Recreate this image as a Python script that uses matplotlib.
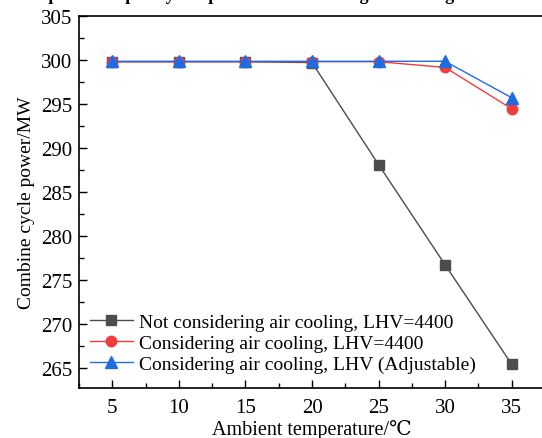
import matplotlib.pyplot as plt
from matplotlib.ticker import MultipleLocator

plt.rcParams['font.family'] = ['Liberation Serif', 'DejaVu Serif']

# ambient temperature (deg C)
temps = [5, 10, 15, 20, 25, 30, 35]

# combined cycle power (MW)
no_cooling = [299.8, 299.8, 299.8, 299.7, 288.1, 276.7, 265.4]
cooling_fixed = [299.8, 299.8, 299.8, 299.8, 299.8, 299.15, 294.45]
cooling_adj = [299.85, 299.85, 299.85, 299.85, 299.85, 299.85, 295.7]

labels = ['Not considering air cooling, LHV=4400',
          'Considering air cooling, LHV=4400',
          'Considering air cooling, LHV (Adjustable)']

fig = plt.figure(figsize=(5.42, 4.39), dpi=100)
ax = fig.add_axes([0.1458, 0.1139, 0.8597, 0.8474])

ax.plot(temps, no_cooling, '-s', color='#4d4d4d', lw=1.0, ms=7, label=labels[0])
ax.plot(temps, cooling_fixed, '-o', color='#f23c3c', lw=1.0, ms=7.5, label=labels[1])
ax.plot(temps, cooling_adj, '-^', color='#1f6be0', lw=1.0, ms=8, label=labels[2])

ax.set_xlim(2.5, 37.5)
ax.set_ylim(262.7, 305)
ax.xaxis.set_major_locator(MultipleLocator(5))
ax.xaxis.set_minor_locator(MultipleLocator(2.5))
ax.yaxis.set_major_locator(MultipleLocator(5))
ax.yaxis.set_minor_locator(MultipleLocator(2.5))
ax.tick_params(which='both', direction='in', labelsize=15, width=1.0)
ax.tick_params(axis='x', pad=7)
ax.tick_params(axis='y', pad=5)
ax.tick_params(which='major', length=6)
ax.tick_params(which='minor', length=3.5)
for s in ax.spines.values():
    s.set_linewidth(1.2)

ax.set_xlabel('Ambient temperature/℃', fontsize=14.5, labelpad=2)
ax.set_ylabel('Combine cycle power/MW', fontsize=14, labelpad=4)

ax.legend(loc='lower left', bbox_to_anchor=(-0.006, 0.005), frameon=False,
          fontsize=14, handlelength=2.2, handletextpad=0.35,
          labelspacing=0.17, borderaxespad=0.3)

fig.text(0.5, 1.001, 'Change of combined power output by temperature considering air cooling and fuel LHV adjustment',
         ha='center', va='baseline', fontsize=13, fontweight='bold')

fig.savefig('out.png', dpi=100)
